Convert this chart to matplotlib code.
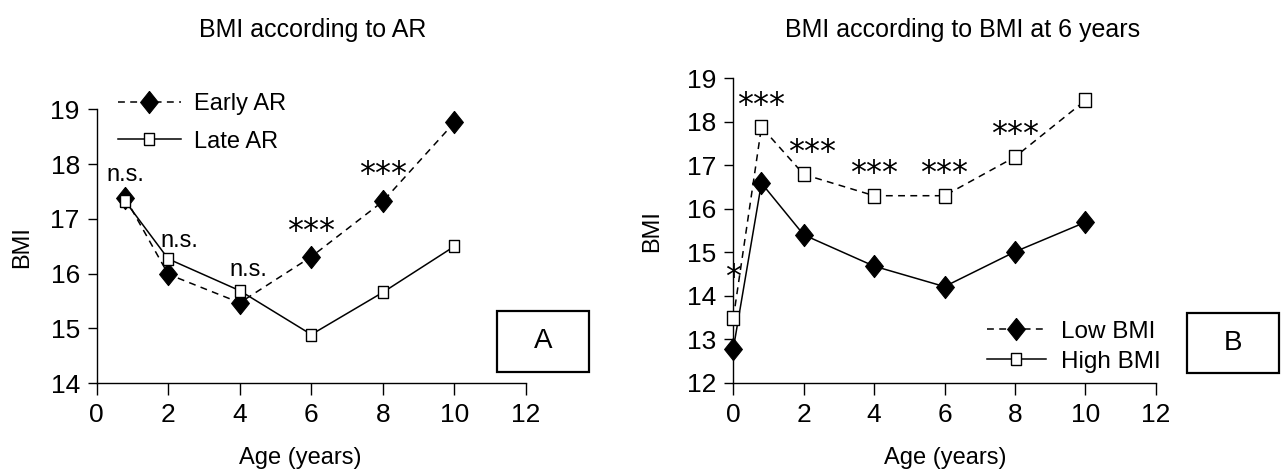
import matplotlib
matplotlib.use("Agg")
import matplotlib.pyplot as plt
from matplotlib.lines import Line2D
from matplotlib.patches import Rectangle

# ---------------- data ----------------
age_a = [0.8, 2, 4, 6, 8, 10]
early_ar = [17.38, 15.99, 15.47, 16.31, 17.32, 18.76]
late_ar = [17.32, 16.27, 15.69, 14.89, 15.66, 16.50]
sig_a = ["n.s.", "n.s.", "n.s.", "***", "***", "***"]
sig_a_x = [0.8, 2.3, 4.23, 6, 8, 10]
sig_a_y = [17.81, 16.60, 16.07, 16.91, 17.95, 19.40]

age_b = [0, 0.8, 2, 4, 6, 8, 10]
low_bmi = [12.78, 16.59, 15.40, 14.68, 14.21, 15.01, 15.69]
high_bmi = [13.48, 17.88, 16.79, 16.30, 16.30, 17.19, 18.49]
sig_b = ["*", "***", "***", "***", "***", "***", "***"]
sig_b_x = [0, 0.8, 2.23, 4, 6, 8, 10]
sig_b_y = [14.60, 18.56, 17.48, 16.98, 16.98, 17.89, 19.17]

xticks = [0, 2, 4, 6, 8, 10, 12]
yticks_a = [14, 15, 16, 17, 18, 19]
yticks_b = [12, 13, 14, 15, 16, 17, 18, 19]

FONT = ["Liberation Sans", "DejaVu Sans"]
plt.rcParams["font.family"] = FONT

W, H = 1284, 475
fig = plt.figure(figsize=(W / 100, H / 100), dpi=100)


def fx(px):
    return px / W


def fy(py):
    return 1 - py / H


DIAMOND = [(0, 1), (0.8, 0), (0, -1), (-0.8, 0), (0, 1)]


def rect(a):
    return [(-a, -1), (a, -1), (a, 1), (-a, 1), (-a, -1)]


def style_axes(ax, xlim, ylim, yticks):
    ax.set_xlim(*xlim)
    ax.set_ylim(*ylim)
    ax.set_xticks(xticks)
    ax.set_yticks(yticks)
    for s in ("top", "right"):
        ax.spines[s].set_visible(False)
    for s in ("left", "bottom"):
        ax.spines[s].set_linewidth(1.0)
    ax.tick_params(axis="x", direction="out", length=8.4, width=1, pad=6, labelsize=19)
    ax.tick_params(axis="y", direction="out", length=6.7, width=1, pad=5.5, labelsize=19)
    ax.patch.set_visible(False)


dash = (0, (4.5, 3.5))
STAR_KW = dict(textcoords="offset points", xytext=(0, -5.5), ha="center",
               va="center", fontsize=23, family="DejaVu Sans")

# ---------------- panel A ----------------
axA = fig.add_axes([fx(96.7), fy(383.3), fx(526 - 96.7), (383.3 - 109.3) / H])
style_axes(axA, (0, 12), (14, 19), yticks_a)
sqA = dict(marker=rect(0.85), ms=9, mfc="white", mec="black", mew=1.0)
diaA = dict(marker=DIAMOND, ms=16, mfc="black", mec="black", mew=0.8)
axA.plot(age_a, late_ar, color="black", lw=1.1, clip_on=False, zorder=3, **sqA)
axA.plot(age_a, early_ar, color="black", lw=1.1, linestyle=dash, clip_on=False,
         zorder=2, **diaA)
for t, x, y in zip(sig_a, sig_a_x, sig_a_y):
    if t.startswith("*"):
        axA.annotate(t, (x, y), **STAR_KW)
    else:
        axA.annotate(t, (x, y), ha="center", va="center", fontsize=17)

hA = [Line2D([], [], color="black", lw=1.1, linestyle=dash, **diaA),
      Line2D([], [], color="black", lw=1.1, **sqA)]
axA.legend(hA, ["Early AR", "Late AR"], loc="upper left",
           bbox_to_anchor=(fx(118), fy(93)), bbox_transform=fig.transFigure,
           frameon=False, borderpad=0, borderaxespad=0, fontsize=17,
           handlelength=2.65, handletextpad=0.55, labelspacing=0.66)

# ---------------- panel B ----------------
axB = fig.add_axes([fx(733.3), fy(382.7), fx(1155.7 - 733.3), (382.7 - 78.3) / H])
style_axes(axB, (0, 12), (12, 19), yticks_b)
sqB = dict(marker=rect(0.8), ms=10.5, mfc="white", mec="black", mew=1.0)
diaB = dict(marker=DIAMOND, ms=16, mfc="black", mec="black", mew=0.8)
axB.plot(age_b, low_bmi, color="black", lw=1.1, clip_on=False, zorder=2, **diaB)
axB.plot(age_b, high_bmi, color="black", lw=1.1, linestyle=dash, clip_on=False,
         zorder=3, **sqB)
for t, x, y in zip(sig_b, sig_b_x, sig_b_y):
    axB.annotate(t, (x, y), **STAR_KW)

hB = [Line2D([], [], color="black", lw=1.1, linestyle=dash, **diaB),
      Line2D([], [], color="black", lw=1.1, **sqA)]
axB.legend(hB, ["Low BMI", "High BMI"], loc="upper left",
           bbox_to_anchor=(fx(986.7), fy(320.5)), bbox_transform=fig.transFigure,
           frameon=False, borderpad=0, borderaxespad=0, fontsize=17.5,
           handlelength=2.45, handletextpad=0.6, labelspacing=0.33)

# ---------------- titles and labels ----------------
fig.text(fx(313), fy(30), "BMI according to AR", ha="center", va="center", fontsize=18)
fig.text(fx(963), fy(30), "BMI according to BMI at 6 years", ha="center", va="center", fontsize=18)
fig.text(fx(300), fy(458), "Age (years)", ha="center", va="center", fontsize=17)
fig.text(fx(945), fy(458), "Age (years)", ha="center", va="center", fontsize=17)
fig.text(fx(21.7), fy(246.7), "BMI", ha="center", va="center", rotation=90, fontsize=17)
fig.text(fx(652), fy(231), "BMI", ha="center", va="center", rotation=90, fontsize=17)

# ---------------- panel boxes ----------------
for (x0, y0, x1, y1, lab) in [(497.3, 311, 588.7, 371.7, "A"),
                              (1187.3, 312.7, 1279, 372.7, "B")]:
    fig.patches.append(Rectangle((fx(x0), fy(y1)), fx(x1 - x0), (y1 - y0) / H,
                                 transform=fig.transFigure, fill=False,
                                 edgecolor="black", lw=1.6))
    fig.text(fx((x0 + x1) / 2), fy((y0 + y1) / 2), lab, ha="center", va="center",
             fontsize=20)

fig.savefig("out.png", dpi=100)
